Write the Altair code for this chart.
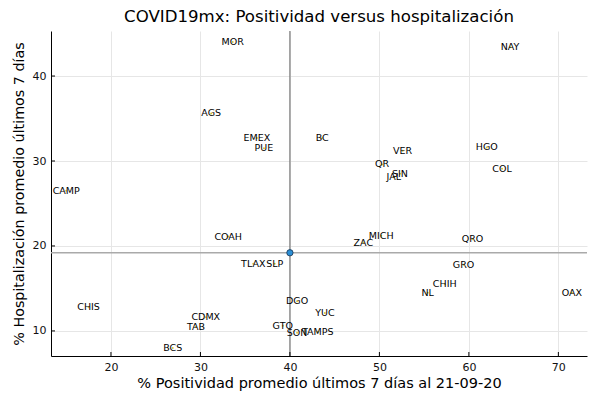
import altair as alt
import pandas as pd

estados = ["MOR", "NAY", "AGS", "EMEX", "PUE", "BC", "VER", "HGO", "QR", "SIN", "JAL",
           "COL", "CAMP", "COAH", "MICH", "ZAC", "QRO", "TLAX", "SLP", "GRO", "CHIH",
           "NL", "OAX", "CHIS", "DGO", "YUC", "CDMX", "TAB", "GTO", "SON", "TAMPS", "BCS"]
positividad = [33.6, 64.6, 31.2, 36.3, 37.1, 43.6, 52.6, 62.0, 50.3, 52.3, 51.6,
               63.7, 15.0, 33.1, 50.2, 48.2, 60.4, 35.9, 38.3, 59.4, 57.3,
               55.4, 71.5, 17.5, 40.8, 43.9, 30.6, 29.5, 39.2, 40.8, 43.1, 26.9]
hospitalizacion = [44.0, 43.4, 35.6, 32.7, 31.5, 32.7, 31.2, 31.6, 29.6, 28.5, 28.1,
                   29.1, 26.5, 21.1, 21.2, 20.4, 20.8, 17.9, 17.9, 17.8, 15.5,
                   14.5, 14.5, 12.8, 13.5, 12.1, 11.6, 10.5, 10.6, 9.8, 9.9, 8.0]
media_pos = [40.0]
media_hosp = [19.2]
x_ticks = [20, 30, 40, 50, 60, 70]
y_ticks = [10, 20, 30, 40]

W, H = 536, 325
FONT = "DejaVu Sans"

df = pd.DataFrame({"estado": estados, "pos": positividad, "hosp": hospitalizacion})
mean_df = pd.DataFrame({"pos": media_pos, "hosp": media_hosp})
xt_df = pd.DataFrame({"v": x_ticks})
yt_df = pd.DataFrame({"v": y_ticks})

xs = alt.Scale(domain=[13.3, 73.2], nice=False, zero=False)
ys = alt.Scale(domain=[7.05, 45.3], nice=False, zero=False)

base = alt.Chart(df)

dots = base.mark_circle(size=4, color="#d8c33a", opacity=1).encode(
    x=alt.X("pos:Q", scale=xs,
            axis=alt.Axis(title="% Positividad promedio últimos 7 días al 21-09-20",
                          values=x_ticks, grid=True, gridColor="#e6e6e6",
                          domainColor="black", tickSize=0, labelPadding=5,
                          labelFontSize=11, labelColor="#111", titleFontSize=14.5,
                          titleFontWeight="normal", titleColor="black",
                          labelFont=FONT, titleFont=FONT, titlePadding=4)),
    y=alt.Y("hosp:Q", scale=ys,
            axis=alt.Axis(title="% Hospitalización promedio últimos 7 días",
                          values=y_ticks, grid=True, gridColor="#e6e6e6",
                          domainColor="black", tickSize=0, labelPadding=5,
                          labelFontSize=11, labelColor="#111", titleFontSize=14.3,
                          titleFontWeight="normal", titleColor="black",
                          labelFont=FONT, titleFont=FONT, titlePadding=6)),
)

labels = base.mark_text(fontSize=9.5, font=FONT, color="black",
                        align="center", baseline="middle").encode(
    x=alt.X("pos:Q", scale=xs), y=alt.Y("hosp:Q", scale=ys), text="estado:N")

vline = alt.Chart(mean_df).mark_rule(color="#777", strokeWidth=1.2).encode(
    x=alt.X("pos:Q", scale=xs))
hline = alt.Chart(mean_df).mark_rule(color="#aaa", strokeWidth=1.6).encode(
    y=alt.Y("hosp:Q", scale=ys))
mean_pt = alt.Chart(mean_df).mark_point(filled=True, size=40, color="#2c8fd6",
                                        stroke="#1a3550", strokeWidth=0.8, opacity=1).encode(
    x=alt.X("pos:Q", scale=xs), y=alt.Y("hosp:Q", scale=ys))

xticks_in = alt.Chart(xt_df).mark_rule(color="black", strokeWidth=1).encode(
    x=alt.X("v:Q", scale=xs), y=alt.value(H), y2=alt.value(H - 4))
yticks_in = alt.Chart(yt_df).mark_rule(color="black", strokeWidth=1).encode(
    y=alt.Y("v:Q", scale=ys), x=alt.value(0), x2=alt.value(4))

chart = alt.layer(vline, hline, dots, labels, mean_pt, xticks_in, yticks_in).properties(
    width=W, height=H,
    title=alt.Title("COVID19mx: Positividad versus hospitalización",
                    fontSize=16.6, fontWeight="normal", font=FONT, color="black",
                    anchor="middle", offset=5),
    autosize=alt.AutoSizeParams(type="none"),
    padding={"left": 43, "top": 23, "right": 5, "bottom": 36},
).configure_view(stroke=None)

chart.save("out.html", embed_options={"renderer": "svg", "actions": False})
